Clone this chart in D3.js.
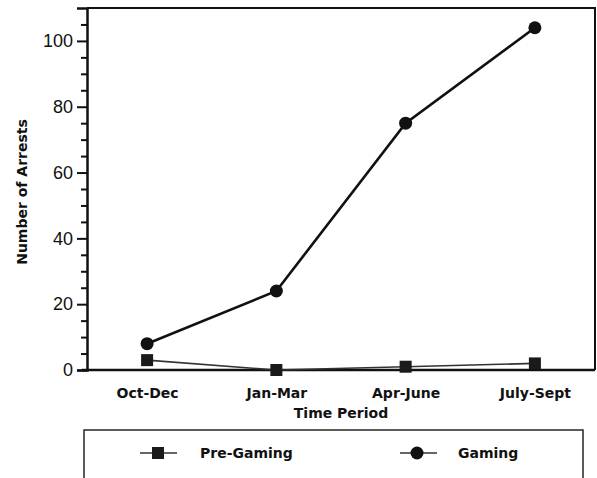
<!DOCTYPE html>
<html>
<head>
<meta charset="utf-8">
<script src="https://cdn.jsdelivr.net/npm/d3@7"></script>
<style>
  html, body { margin: 0; padding: 0; background: #fff; }
  svg { display: block; }
</style>
</head>
<body>
<svg id="chart" width="597" height="478"></svg>
<script>
const categories = ["Oct-Dec", "Jan-Mar", "Apr-June", "July-Sept"];
const preGaming = [3, 0, 1, 2];
const gaming = [8, 24, 75, 104];
const yMajorTicks = [0, 20, 40, 60, 80, 100];
const yMinorTicks = [5, 10, 15, 25, 30, 35, 45, 50, 55, 65, 70, 75, 85, 90, 95, 105];
const seriesNames = ["Pre-Gaming", "Gaming"];

(function () {
const svg = d3.select("#chart");
const pLeft = 87, pRight = 595, pTop = 8, pBottom = 370;
const ink = "#111";

const x = d3.scalePoint().domain(categories).range([pLeft, pRight]).padding(0.465);
const y = d3.scaleLinear().domain([0, 110]).range([pBottom, pTop]);

// frame (top and right)
svg.append("path")
  .attr("d", `M${pLeft},${pTop}H${pRight}V${pBottom}`)
  .attr("fill", "none").attr("stroke", ink).attr("stroke-width", 2);

// minor y ticks
const yMinor = svg.append("g").attr("transform", `translate(${pLeft},0)`)
  .call(d3.axisLeft(y).tickValues(yMinorTicks).tickSize(6).tickFormat(""));
yMinor.select(".domain").remove();
yMinor.selectAll("line").attr("stroke", ink).attr("stroke-width", 2);

// major y ticks
const yAxis = svg.append("g").attr("transform", `translate(${pLeft},0)`)
  .call(d3.axisLeft(y).tickValues(yMajorTicks).tickSize(10).tickPadding(4).tickFormat(d3.format("d")));
yAxis.select(".domain").attr("stroke", ink).attr("stroke-width", 2.5);
yAxis.selectAll("line").attr("stroke", ink).attr("stroke-width", 2);
yAxis.selectAll("text")
  .attr("font-family", "'Liberation Sans', Arial, sans-serif")
  .attr("font-size", 18).attr("fill", ink);

// x axis
const xAxis = svg.append("g").attr("transform", `translate(0,${pBottom})`)
  .call(d3.axisBottom(x).tickSize(0).tickPadding(18));
xAxis.select(".domain").attr("d", `M${pLeft - 5},0H${pRight}`)
  .attr("stroke", ink).attr("stroke-width", 2.5);
xAxis.selectAll("text")
  .attr("font-family", "'DejaVu Sans', sans-serif")
  .attr("font-weight", "bold").attr("font-size", 14).attr("fill", ink);

// axis titles
svg.append("text")
  .attr("x", (pLeft + pRight) / 2).attr("y", 418)
  .attr("text-anchor", "middle")
  .attr("font-family", "'DejaVu Sans', sans-serif")
  .attr("font-weight", "bold").attr("font-size", 14).attr("fill", ink)
  .text("Time Period");

svg.append("text")
  .attr("transform", `translate(27,${(pTop + pBottom) / 2 + 3}) rotate(-90)`)
  .attr("text-anchor", "middle")
  .attr("font-family", "'DejaVu Sans', sans-serif")
  .attr("font-weight", "bold").attr("font-size", 14).attr("fill", ink)
  .text("Number of Arrests");

// lines
const line = d3.line().x((d, i) => x(categories[i])).y(d => y(d));

svg.append("path").datum(preGaming)
  .attr("d", line).attr("fill", "none")
  .attr("stroke", "#333").attr("stroke-width", 1.6);

svg.append("path").datum(gaming)
  .attr("d", line).attr("fill", "none")
  .attr("stroke", ink).attr("stroke-width", 2.6);

// markers
const sq = 12;
svg.selectAll("rect.pre").data(preGaming).enter().append("rect")
  .attr("class", "pre")
  .attr("x", (d, i) => x(categories[i]) - sq / 2)
  .attr("y", d => y(d) - sq / 2)
  .attr("width", sq).attr("height", sq)
  .attr("fill", "#1a1a1a");

svg.selectAll("circle.gam").data(gaming).enter().append("circle")
  .attr("class", "gam")
  .attr("cx", (d, i) => x(categories[i]))
  .attr("cy", d => y(d))
  .attr("r", 6.5)
  .attr("fill", ink);

// legend
svg.append("rect")
  .attr("x", 84).attr("y", 430).attr("width", 499).attr("height", 60)
  .attr("fill", "none").attr("stroke", "#333").attr("stroke-width", 1.6);

const legY = 453;
const leg = [
  { name: seriesNames[0], lx: 140, mx: 158, tx: 200, shape: "square" },
  { name: seriesNames[1], lx: 400, mx: 417, tx: 458, shape: "circle" }
];
leg.forEach(l => {
  svg.append("line")
    .attr("x1", l.lx).attr("x2", l.lx + 37)
    .attr("y1", legY).attr("y2", legY)
    .attr("stroke", "#333").attr("stroke-width", 1.6);
  if (l.shape === "square") {
    svg.append("rect")
      .attr("x", l.mx - 6).attr("y", legY - 6)
      .attr("width", 12).attr("height", 12).attr("fill", "#1a1a1a");
  } else {
    svg.append("circle")
      .attr("cx", l.mx).attr("cy", legY).attr("r", 6.5).attr("fill", ink);
  }
  svg.append("text")
    .attr("x", l.tx).attr("y", legY + 5)
    .attr("font-family", "'DejaVu Sans', sans-serif")
    .attr("font-weight", "bold").attr("font-size", 14).attr("fill", ink)
    .text(l.name);
});
})();
</script>
</body>
</html>
